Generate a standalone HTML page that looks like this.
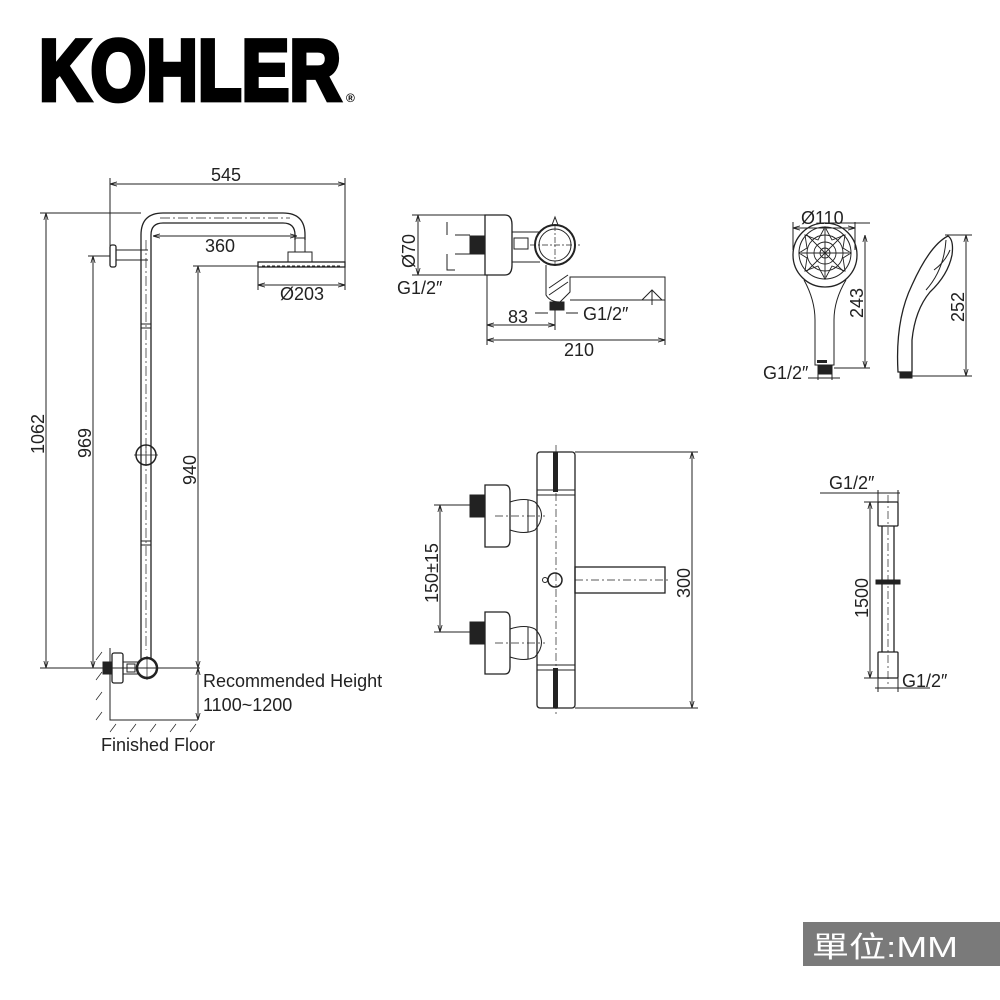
<!DOCTYPE html>
<html><head><meta charset="utf-8"><style>
html,body{margin:0;padding:0;background:#fff}
svg{display:block}
text{font-family:"Liberation Sans","Noto Sans CJK TC",sans-serif;fill:#222}
</style></head><body>
<svg width="1000" height="1000" viewBox="0 0 1000 1000" xmlns="http://www.w3.org/2000/svg">
<defs>
<marker id="a" viewBox="0 0 10 10" refX="10" refY="5" markerWidth="7" markerHeight="7" orient="auto-start-reverse"><path d="M0,2 L10,5 L0,8" fill="none" stroke="#222" stroke-width="1.2"/></marker>
</defs>
<!-- Logo -->
<g transform="translate(37,100) scale(1,1.2)">
<text x="2" y="0" font-size="72" font-weight="bold" textLength="302" lengthAdjust="spacingAndGlyphs" style="fill:#000;stroke:#000;stroke-width:4;stroke-linejoin:miter">KOHLER</text>
</g>
<text x="346" y="102" font-size="12" font-weight="bold" style="fill:#000">®</text>

<g fill="none" stroke="#222" stroke-width="1">
<path d="M141,660 V235 Q141,213 163,213 H283 Q305,213 305,235 V240" stroke-width="1.3"/>
<path d="M151,660 V235 Q151,223 163,223 H283 Q295,223 295,235 V240" stroke-width="1.3"/>
<path d="M146,240 V650 M160,218 H290" stroke-dasharray="10,3,2,3" stroke-width="0.7"/>
<rect x="295" y="238" width="10" height="14"/>
<rect x="288" y="252" width="24" height="10"/>
<rect x="258" y="262" width="87" height="5" stroke-width="1.3"/>
<line x1="262" y1="266" x2="342" y2="266" stroke-dasharray="3,2"/>
<rect x="110" y="245" width="6" height="22" rx="2" stroke-width="1.3"/>
<path d="M116,250 H148 M116,260 H148"/>
<path d="M141,324 H151 M141,328 H151 M141,541 H151 M141,545 H151"/>
<circle cx="146" cy="455" r="10" stroke-width="1.5"/>
<path d="M134,455 H158 M146,444 V466" stroke-width="0.7"/>
<rect x="112" y="653" width="11" height="30" rx="2" stroke-width="1.3"/>
<rect x="103" y="662" width="8" height="12" fill="#222"/>
<path d="M123,662 H138 M123,674 H138"/>
<rect x="127" y="664" width="8" height="8"/>
<circle cx="147" cy="668" r="10" stroke-width="2.5"/>
<path d="M135,668 H160 M147,656 V680" stroke-width="0.7"/>
<path d="M110,648 V720 H198"/>
<path d="M102,652 L96,660 M102,672 L96,680 M102,692 L96,700 M102,712 L96,720" stroke-width="0.7"/>
<path d="M116,724 L110,732 M136,724 L130,732 M156,724 L150,732 M176,724 L170,732 M196,724 L190,732" stroke-width="0.7"/>
<path d="M110,246 V178 M345,262 V178"/>
<line x1="110" y1="184" x2="345" y2="184" marker-start="url(#a)" marker-end="url(#a)"/>
<line x1="153" y1="236" x2="297" y2="236" marker-start="url(#a)" marker-end="url(#a)"/>
<path d="M258,267 V290 M345,267 V290"/>
<line x1="258" y1="285" x2="345" y2="285" marker-start="url(#a)" marker-end="url(#a)"/>
<path d="M40,213 H141 M40,668 H200 M88,256 H110 M193,266 H258"/>
<line x1="46" y1="213" x2="46" y2="668" marker-start="url(#a)" marker-end="url(#a)"/>
<line x1="93" y1="256" x2="93" y2="668" marker-start="url(#a)" marker-end="url(#a)"/>
<line x1="198" y1="266" x2="198" y2="668" marker-start="url(#a)" marker-end="url(#a)"/>
<line x1="198" y1="668" x2="198" y2="720" marker-start="url(#a)" marker-end="url(#a)"/>

<path d="M485,215 H505 Q512,215 512,225 V265 Q512,275 505,275 H485 Z" stroke-width="1.3"/>
<rect x="470" y="236" width="15" height="18" fill="#222"/>
<path d="M512,232 H540 M512,262 H540"/>
<rect x="514" y="238" width="14" height="11"/>
<circle cx="555" cy="245" r="20" stroke-width="2"/>
<circle cx="555" cy="245" r="16"/>
<path d="M552,225 L555,217 L558,225"/>
<path d="M530,245 H580 M555,225 V265" stroke-dasharray="6,2,2,2" stroke-width="0.7"/>
<path d="M546,265 V295 Q550,302 560,302 L570,292 V277 H665 V300 H570"/>
<path d="M549,288 L568,275 M549,295 L568,282"/>
<path d="M642,300 L652,290 L662,300 M652,290 V305"/>
<rect x="550" y="302" width="14" height="8" fill="#222"/>
<path d="M412,215 H485 M412,275 H485 M447,222 V235 M447,254 V270 H455"/>
<line x1="418" y1="215" x2="418" y2="275" marker-start="url(#a)" marker-end="url(#a)"/>
<path d="M455,235 H470 M455,254 H470"/>
<path d="M487,275 V345 M665,300 V345 M555,310 V330"/>
<line x1="487" y1="325" x2="555" y2="325" marker-start="url(#a)" marker-end="url(#a)"/>
<line x1="487" y1="340" x2="665" y2="340" marker-start="url(#a)" marker-end="url(#a)"/>
<path d="M535,313 H548 M566,313 H578"/>

<circle cx="825" cy="255" r="32" stroke-width="1.3"/>
<circle cx="825" cy="253" r="26"/>
<g stroke-width="0.9">
<circle cx="825" cy="253" r="18"/><circle cx="825" cy="253" r="11"/><circle cx="825" cy="253" r="5"/>
<path d="M825,227 L832,240 L845,235 L843,248 L851,253 L843,258 L845,271 L832,266 L825,279 L818,266 L805,271 L807,258 L799,253 L807,248 L805,235 L818,240 Z"/>
<path d="M807,235 L843,271 M843,235 L807,271 M825,229 V277 M801,253 H849"/>
</g>
<path d="M804,280 Q815,300 815,320 V365 H834 V320 Q834,300 846,280"/>
<rect x="817" y="360" width="10" height="3" fill="#222" stroke="none"/>
<rect x="818" y="366" width="14" height="8" fill="#222"/>
<path d="M793,250 V222 M855,250 V222 M825,223 H870 M834,368 H870"/>
<line x1="793" y1="228" x2="855" y2="228" marker-start="url(#a)" marker-end="url(#a)"/>
<line x1="865" y1="235" x2="865" y2="368" marker-start="url(#a)" marker-end="url(#a)"/>
<path d="M818,370 V380 M832,370 V380 M808,378 H840"/>
<path d="M948,236 Q954,240 952,255 Q948,275 930,292 Q915,310 912,340 L912,372 H898 Q895,320 912,285 Q930,245 948,236 Z" stroke-width="1.3"/>
<path d="M946,240 Q944,270 926,290 M950,250 Q945,262 934,270"/>
<rect x="900" y="372" width="12" height="6" fill="#222"/>
<path d="M945,235 H972 M912,376 H972"/>
<line x1="966" y1="235" x2="966" y2="376" marker-start="url(#a)" marker-end="url(#a)"/>

<rect x="537" y="452" width="38" height="256" rx="3" stroke-width="1.3"/>
<path d="M537,490 H575 M537,495 H575 M537,665 H575 M537,670 H575"/>
<rect x="553" y="452" width="5" height="40" fill="#222" stroke="none"/>
<rect x="553" y="668" width="5" height="40" fill="#222" stroke="none"/>
<path d="M556,445 V715" stroke-dasharray="8,3,2,3" stroke-width="0.7"/>
<g id="h">
<path d="M485,485 H505 Q510,485 510,492 V540 Q510,547 505,547 H485 Z" stroke-width="1.3"/>
<rect x="470" y="495" width="15" height="22" fill="#222"/>
<path d="M510,502 Q525,497 535,502 Q548,515 535,530 Q525,535 510,530"/>
<path d="M528,500 V532"/>
</g>
<use href="#h" transform="translate(0,127)"/>
<path d="M495,516 H545 M495,643 H545" stroke-dasharray="8,3,2,3" stroke-width="0.7"/>
<rect x="575" y="567" width="90" height="26" stroke-width="1.3"/>
<circle cx="555" cy="580" r="7" stroke-width="1.5"/>
<circle cx="545" cy="580" r="2.5"/>
<path d="M575,580 H668" stroke-dasharray="8,3,2,3" stroke-width="0.7"/>
<path d="M575,452 H698 M575,708 H698"/>
<line x1="692" y1="452" x2="692" y2="708" marker-start="url(#a)" marker-end="url(#a)"/>
<path d="M434,505 H470 M434,632 H470"/>
<line x1="440" y1="505" x2="440" y2="632" marker-start="url(#a)" marker-end="url(#a)"/>

<rect x="878" y="502" width="20" height="24" rx="1" stroke-width="1.3"/>
<rect x="878" y="652" width="20" height="26" rx="1" stroke-width="1.3"/>
<path d="M882,526 V652 M894,526 V652" stroke-width="1.3"/>
<rect x="876" y="580" width="24" height="4" fill="#222"/>
<path d="M888,495 V685" stroke-dasharray="8,3,2,3" stroke-width="0.7"/>
<path d="M820,493 H900 M878,490 V502 M898,490 V502 M864,502 H878 M864,678 H878 M878,678 V692 M898,678 V692 M875,688 H930"/>
<line x1="870" y1="502" x2="870" y2="678" marker-start="url(#a)" marker-end="url(#a)"/>
</g>

<g font-size="18">
<text x="211" y="181">545</text>
<text x="205" y="252">360</text>
<text x="280" y="300">Ø203</text>
<text transform="translate(44,454) rotate(-90)">1062</text>
<text transform="translate(91,458) rotate(-90)">969</text>
<text transform="translate(196,485) rotate(-90)">940</text>
<text x="203" y="687">Recommended Height</text>
<text x="203" y="711">1100~1200</text>
<text x="101" y="751">Finished Floor</text>
<text transform="translate(415,268) rotate(-90)">Ø70</text>
<text x="397" y="294">G1/2″</text>
<text x="508" y="323">83</text>
<text x="583" y="320">G1/2″</text>
<text x="564" y="356">210</text>
<text x="801" y="224">Ø110</text>
<text transform="translate(863,318) rotate(-90)">243</text>
<text x="763" y="379">G1/2″</text>
<text transform="translate(964,322) rotate(-90)">252</text>
<text transform="translate(438,603) rotate(-90)">150±15</text>
<text transform="translate(690,598) rotate(-90)">300</text>
<text x="829" y="489">G1/2″</text>
<text transform="translate(868,618) rotate(-90)">1500</text>
<text x="902" y="687">G1/2″</text>
</g>

<rect x="803" y="922" width="197" height="44" fill="#7a7a7a"/>
<text x="812" y="957" font-size="29" style="fill:#fff" textLength="146" lengthAdjust="spacingAndGlyphs">單位:MM</text>
</svg>
</body></html>
